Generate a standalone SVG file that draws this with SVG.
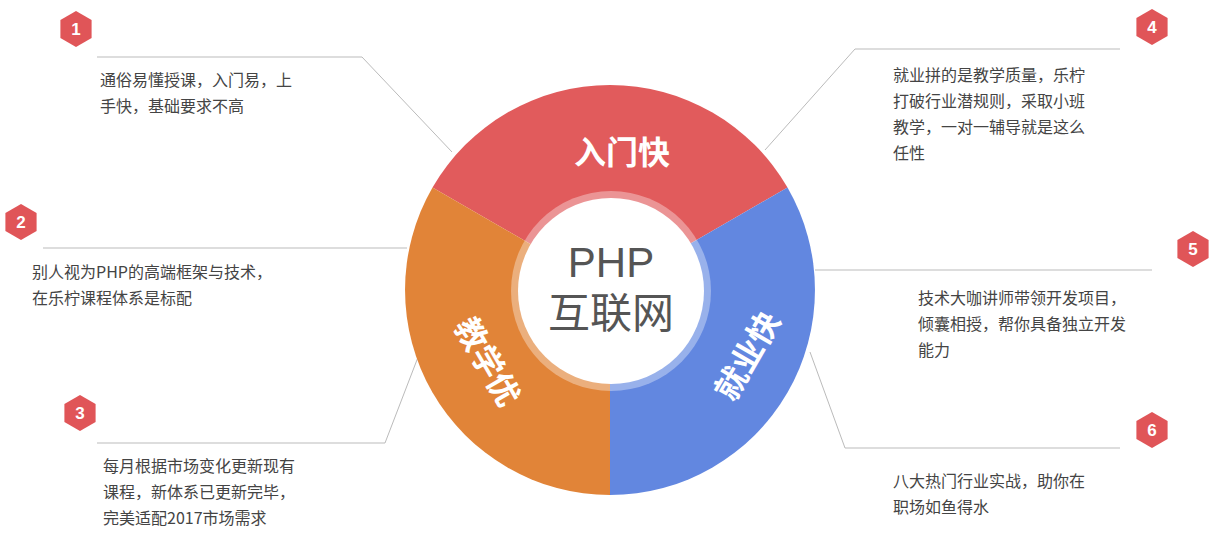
<svg xmlns="http://www.w3.org/2000/svg" width="1223" height="536" viewBox="0 0 1223 536">
<style>
.t{font-family:"Noto Sans CJK SC","Liberation Sans",sans-serif;font-size:16px;fill:#444}
.seg{font-family:"Noto Sans CJK SC",sans-serif;font-size:32px;fill:#fff;font-weight:bold;text-anchor:middle}
.n{font-family:"Liberation Sans",sans-serif;font-size:17px;fill:#fff;font-weight:bold;text-anchor:middle}
.ln{stroke:#bbb;stroke-width:1;fill:none}
.hx{fill:#e05558}
.c{font-family:"Liberation Sans","Noto Sans CJK SC",sans-serif;font-size:42px;fill:#555;text-anchor:middle}
</style>
<defs><polygon id="hex" points="0,-18 15.6,-9 15.6,9 0,18 -15.6,9 -15.6,-9"/></defs>
<rect width="1223" height="536" fill="#fff"/>
<g id="connectors">
<polyline class="ln" points="97,57 362,57 452,152"/>
<polyline class="ln" points="43,248 407,248"/>
<polyline class="ln" points="97,443 385,443 420,352"/>
<polyline class="ln" points="1120,49 855,49 765,150"/>
<polyline class="ln" points="1152,270 815,270"/>
<polyline class="ln" points="1120,448 845,448 810,352"/>
</g>
<g id="wheel">
<path d="M610,290 L432.5,187.5 A205,205 0 0 1 787.5,187.5 Z" fill="#e15b5c"/>
<path d="M610,290 L787.5,187.5 A205,205 0 0 1 610,495 Z" fill="#6287e0"/>
<path d="M610,290 L610,495 A205,205 0 0 1 432.5,187.5 Z" fill="#e18438"/>
<circle cx="611" cy="291" r="100" fill="#fff" opacity="0.35"/>
<circle cx="611" cy="291" r="93" fill="#fff"/>
<text class="seg" x="622" y="164">入门快</text>
<text class="seg" transform="translate(487,362) rotate(60)" y="11">教学优</text>
<text class="seg" transform="translate(748,356) rotate(-60)" y="11">就业快</text>
<text class="c" x="611" y="277">PHP</text>
<text class="c" x="611" y="328">互联网</text>
</g>
<g id="n1"><use href="#hex" x="76" y="29" class="hx"/><text class="n" x="76" y="35">1</text>
<text class="t" x="100" y="86">通俗易懂授课，入门易，上</text><text class="t" x="100" y="112">手快，基础要求不高</text></g>
<g id="n2"><use href="#hex" x="21" y="222" class="hx"/><text class="n" x="21" y="228">2</text>
<text class="t" x="32" y="278">别人视为PHP的高端框架与技术，</text><text class="t" x="32" y="304">在乐柠课程体系是标配</text></g>
<g id="n3"><use href="#hex" x="80" y="413" class="hx"/><text class="n" x="80" y="419">3</text>
<text class="t" x="103" y="472">每月根据市场变化更新现有</text><text class="t" x="103" y="498">课程，新体系已更新完毕，</text><text class="t" x="103" y="524">完美适配2017市场需求</text></g>
<g id="n4"><use href="#hex" x="1152" y="27" class="hx"/><text class="n" x="1152" y="33">4</text>
<text class="t" x="893" y="81">就业拼的是教学质量，乐柠</text><text class="t" x="893" y="107">打破行业潜规则，采取小班</text><text class="t" x="893" y="133">教学，一对一辅导就是这么</text><text class="t" x="893" y="159">任性</text></g>
<g id="n5"><use href="#hex" x="1193" y="249" class="hx"/><text class="n" x="1193" y="255">5</text>
<text class="t" x="918" y="304">技术大咖讲师带领开发项目，</text><text class="t" x="918" y="330">倾囊相授，帮你具备独立开发</text><text class="t" x="918" y="356">能力</text></g>
<g id="n6"><use href="#hex" x="1152" y="430" class="hx"/><text class="n" x="1152" y="436">6</text>
<text class="t" x="893" y="487">八大热门行业实战，助你在</text><text class="t" x="893" y="513">职场如鱼得水</text></g>
</svg>
